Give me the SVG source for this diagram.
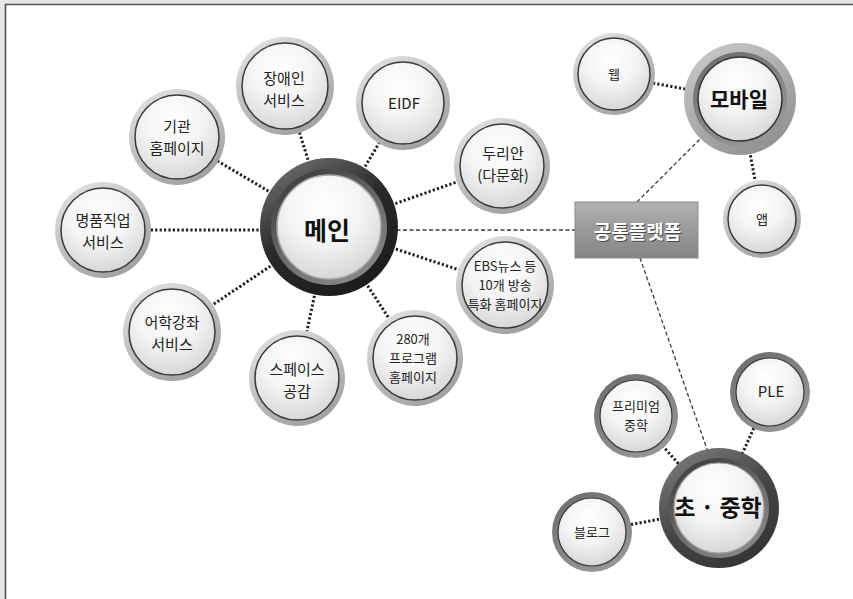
<svg xmlns="http://www.w3.org/2000/svg" width="853" height="599" viewBox="0 0 853 599">
<defs>
<linearGradient id="ringL" x1="0.2" y1="0" x2="0.8" y2="1">
<stop offset="0" stop-color="#e2e2e2"/><stop offset="0.5" stop-color="#bdbdbd"/><stop offset="1" stop-color="#9c9c9c"/>
</linearGradient>
<radialGradient id="inner" cx="0.45" cy="0.3" r="0.8">
<stop offset="0" stop-color="#ffffff"/><stop offset="0.45" stop-color="#f4f4f4"/><stop offset="0.85" stop-color="#d9d9d9"/><stop offset="1" stop-color="#c4c4c4"/>
</radialGradient>
<linearGradient id="darkOuter" x1="0.2" y1="0" x2="0.8" y2="1">
<stop offset="0" stop-color="#6e6e6e"/><stop offset="0.45" stop-color="#2a2a2a"/><stop offset="1" stop-color="#1a1a1a"/>
</linearGradient>
<linearGradient id="darkInner" x1="0.2" y1="0" x2="0.8" y2="1">
<stop offset="0" stop-color="#3c3c3c"/><stop offset="0.5" stop-color="#6a6a6a"/><stop offset="1" stop-color="#8a8a8a"/>
</linearGradient>
<linearGradient id="midOuter" x1="0.2" y1="0" x2="0.8" y2="1">
<stop offset="0" stop-color="#7a7a7a"/><stop offset="0.5" stop-color="#454545"/><stop offset="1" stop-color="#333333"/>
</linearGradient>
<linearGradient id="mobOuter" x1="0.2" y1="0" x2="0.8" y2="1">
<stop offset="0" stop-color="#c8c8c8"/><stop offset="1" stop-color="#8e8e8e"/>
</linearGradient>
<linearGradient id="mobMid" x1="0.2" y1="0" x2="0.8" y2="1">
<stop offset="0" stop-color="#6e6e6e"/><stop offset="1" stop-color="#9a9a9a"/>
</linearGradient>
<linearGradient id="plat" x1="0" y1="0" x2="0" y2="1">
<stop offset="0" stop-color="#b2b2b2"/><stop offset="0.5" stop-color="#9a9a9a"/><stop offset="1" stop-color="#858585"/>
</linearGradient>
</defs>
<style>
.dot{stroke:#1e1e1e;stroke-width:3;stroke-dasharray:2.2 2.2;fill:none}
.dash{stroke:#3a3a3a;stroke-width:1.3;stroke-dasharray:4 2.5;fill:none}
.t{font-family:"Noto Sans CJK KR","Noto Sans",sans-serif;fill:#222;text-anchor:middle;font-size:15px}
.s{font-size:13px}
.b{font-weight:bold;fill:#111;font-size:21px}
.bb{font-size:25px}
.bc{font-size:23px}
.w{font-family:"Noto Sans CJK KR","Noto Sans",sans-serif;font-weight:bold;font-size:19px;fill:#ffffff;text-anchor:middle}
.ws{fill:#4a4a4a}
</style>
<rect x="0" y="0" width="853" height="599" fill="#e6e6e6"/>
<rect x="5" y="4" width="848" height="595" fill="#ffffff"/>
<path d="M5.5 599 V4.5 H853" stroke="#555" stroke-width="1.6" fill="none"/>

<g id="connectors">
<line class="dot" x1="329" y1="227" x2="285" y2="86"/>
<line class="dot" x1="329" y1="227" x2="403" y2="103"/>
<line class="dot" x1="329" y1="227" x2="177" y2="137"/>
<line class="dot" x1="329" y1="227" x2="502" y2="166"/>
<line class="dot" x1="329" y1="230" x2="103" y2="230"/>
<line class="dot" x1="329" y1="227" x2="505" y2="285"/>
<line class="dot" x1="329" y1="227" x2="172" y2="332"/>
<line class="dot" x1="329" y1="227" x2="415" y2="358"/>
<line class="dot" x1="329" y1="227" x2="297" y2="378"/>
<line class="dash" x1="390" y1="230" x2="576" y2="230"/>
<line class="dash" x1="637" y1="202" x2="740" y2="99"/>
<line class="dash" x1="640" y1="258" x2="708" y2="452"/>
<line class="dot" x1="614" y1="76" x2="740" y2="99"/>
<line class="dot" x1="740" y1="99" x2="762" y2="218"/>
<line class="dot" x1="636" y1="416" x2="718" y2="508"/>
<line class="dot" x1="770" y1="392" x2="718" y2="508"/>
<line class="dot" x1="592" y1="532" x2="718" y2="508"/>
</g>

<g id="main">
<circle cx="329" cy="227" r="69" fill="url(#darkOuter)"/>
<circle cx="329" cy="227" r="58" fill="url(#darkInner)"/>
<circle cx="329" cy="227" r="52" fill="url(#inner)" stroke="#a8a8a8" stroke-width="1.5"/>
<text class="t b bb" x="327" y="240">메인</text>
</g>

<g id="n-jangae">
<circle cx="285" cy="86" r="49" fill="url(#ringL)"/>
<circle cx="285" cy="86" r="43" fill="url(#inner)" stroke="#3a3a3a" stroke-width="1.5"/>
<text class="t" x="284" y="84">장애인</text><text class="t" x="284" y="106">서비스</text>
</g>
<g id="n-eidf">
<circle cx="403" cy="103" r="47" fill="url(#ringL)"/>
<circle cx="403" cy="103" r="41" fill="url(#inner)" stroke="#3a3a3a" stroke-width="1.5"/>
<text class="t" x="404" y="109">EIDF</text>
</g>
<g id="n-gigwan">
<circle cx="177" cy="137" r="48" fill="url(#ringL)"/>
<circle cx="177" cy="137" r="42" fill="url(#inner)" stroke="#3a3a3a" stroke-width="1.5"/>
<text class="t" x="177" y="132">기관</text><text class="t" x="177" y="154">홈페이지</text>
</g>
<g id="n-durian">
<circle cx="502" cy="166" r="48" fill="url(#ringL)"/>
<circle cx="502" cy="166" r="42" fill="url(#inner)" stroke="#3a3a3a" stroke-width="1.5"/>
<text class="t" x="503" y="159">두리안</text><text class="t" x="503" y="181">(다문화)</text>
</g>
<g id="n-myeongpum">
<circle cx="103" cy="230" r="48" fill="url(#ringL)"/>
<circle cx="103" cy="230" r="42" fill="url(#inner)" stroke="#3a3a3a" stroke-width="1.5"/>
<text class="t" x="103" y="226">명품직업</text><text class="t" x="103" y="248">서비스</text>
</g>
<g id="n-ebs">
<circle cx="505" cy="285" r="49" fill="url(#ringL)"/>
<circle cx="505" cy="285" r="43" fill="url(#inner)" stroke="#3a3a3a" stroke-width="1.5"/>
<text class="t s" x="505" y="271">EBS뉴스 등</text><text class="t s" x="505" y="290">10개 방송</text><text class="t s" x="505" y="309">특화 홈페이지</text>
</g>
<g id="n-eohak">
<circle cx="172" cy="332" r="49" fill="url(#ringL)"/>
<circle cx="172" cy="332" r="43" fill="url(#inner)" stroke="#3a3a3a" stroke-width="1.5"/>
<text class="t" x="172" y="328">어학강좌</text><text class="t" x="172" y="350">서비스</text>
</g>
<g id="n-280">
<circle cx="415" cy="358" r="48" fill="url(#ringL)"/>
<circle cx="415" cy="358" r="42" fill="url(#inner)" stroke="#3a3a3a" stroke-width="1.5"/>
<text class="t s" x="413" y="344">280개</text><text class="t s" x="413" y="363">프로그램</text><text class="t s" x="413" y="382">홈페이지</text>
</g>
<g id="n-space">
<circle cx="297" cy="378" r="48" fill="url(#ringL)"/>
<circle cx="297" cy="378" r="42" fill="url(#inner)" stroke="#3a3a3a" stroke-width="1.5"/>
<text class="t" x="297" y="375">스페이스</text><text class="t" x="297" y="397">공감</text>
</g>

<g id="platform">
<rect x="575" y="202" width="123" height="56" fill="url(#plat)" stroke="#8a8a8a" stroke-width="1"/>
<text class="w ws" x="638.5" y="240">공통플랫폼</text>
<text class="w" x="637.5" y="239">공통플랫폼</text>
</g>

<g id="mobile">
<circle cx="740" cy="99" r="56" fill="url(#mobOuter)"/>
<circle cx="740" cy="99" r="47" fill="url(#mobMid)"/>
<circle cx="740" cy="99" r="42" fill="url(#inner)" stroke="#333" stroke-width="1.5"/>
<text class="t b" x="739" y="107">모바일</text>
</g>
<g id="n-web">
<circle cx="614" cy="74" r="41" fill="url(#ringL)"/>
<circle cx="614" cy="74" r="36" fill="url(#inner)" stroke="#3a3a3a" stroke-width="1.5"/>
<text class="t s" x="614" y="79">웹</text>
</g>
<g id="n-app">
<circle cx="762" cy="219" r="39" fill="url(#ringL)"/>
<circle cx="762" cy="219" r="34" fill="url(#inner)" stroke="#3a3a3a" stroke-width="1.5"/>
<text class="t s" x="762" y="224">앱</text>
</g>

<g id="chojung">
<circle cx="719" cy="508" r="60" fill="url(#midOuter)"/>
<circle cx="719" cy="508" r="50" fill="url(#darkInner)"/>
<circle cx="719" cy="508" r="45" fill="url(#inner)" stroke="#a0a0a0" stroke-width="1.2"/>
<text class="t b bc" x="718" y="516">초 · 중학</text>
</g>
<g id="n-premium">
<circle cx="636" cy="416" r="42" fill="url(#mobMid)"/>
<circle cx="636" cy="416" r="36" fill="url(#inner)" stroke="#3a3a3a" stroke-width="1.2"/>
<text class="t s" x="636" y="411">프리미엄</text><text class="t s" x="636" y="430">중학</text>
</g>
<g id="n-ple">
<circle cx="770" cy="392" r="40" fill="url(#mobMid)"/>
<circle cx="770" cy="392" r="34" fill="url(#inner)" stroke="#3a3a3a" stroke-width="1.2"/>
<text class="t" x="771" y="397">PLE</text>
</g>
<g id="n-blog">
<circle cx="592" cy="532" r="40" fill="url(#mobMid)"/>
<circle cx="592" cy="532" r="34" fill="url(#inner)" stroke="#3a3a3a" stroke-width="1.2"/>
<text class="t s" x="592" y="537">블로그</text>
</g>
</svg>
